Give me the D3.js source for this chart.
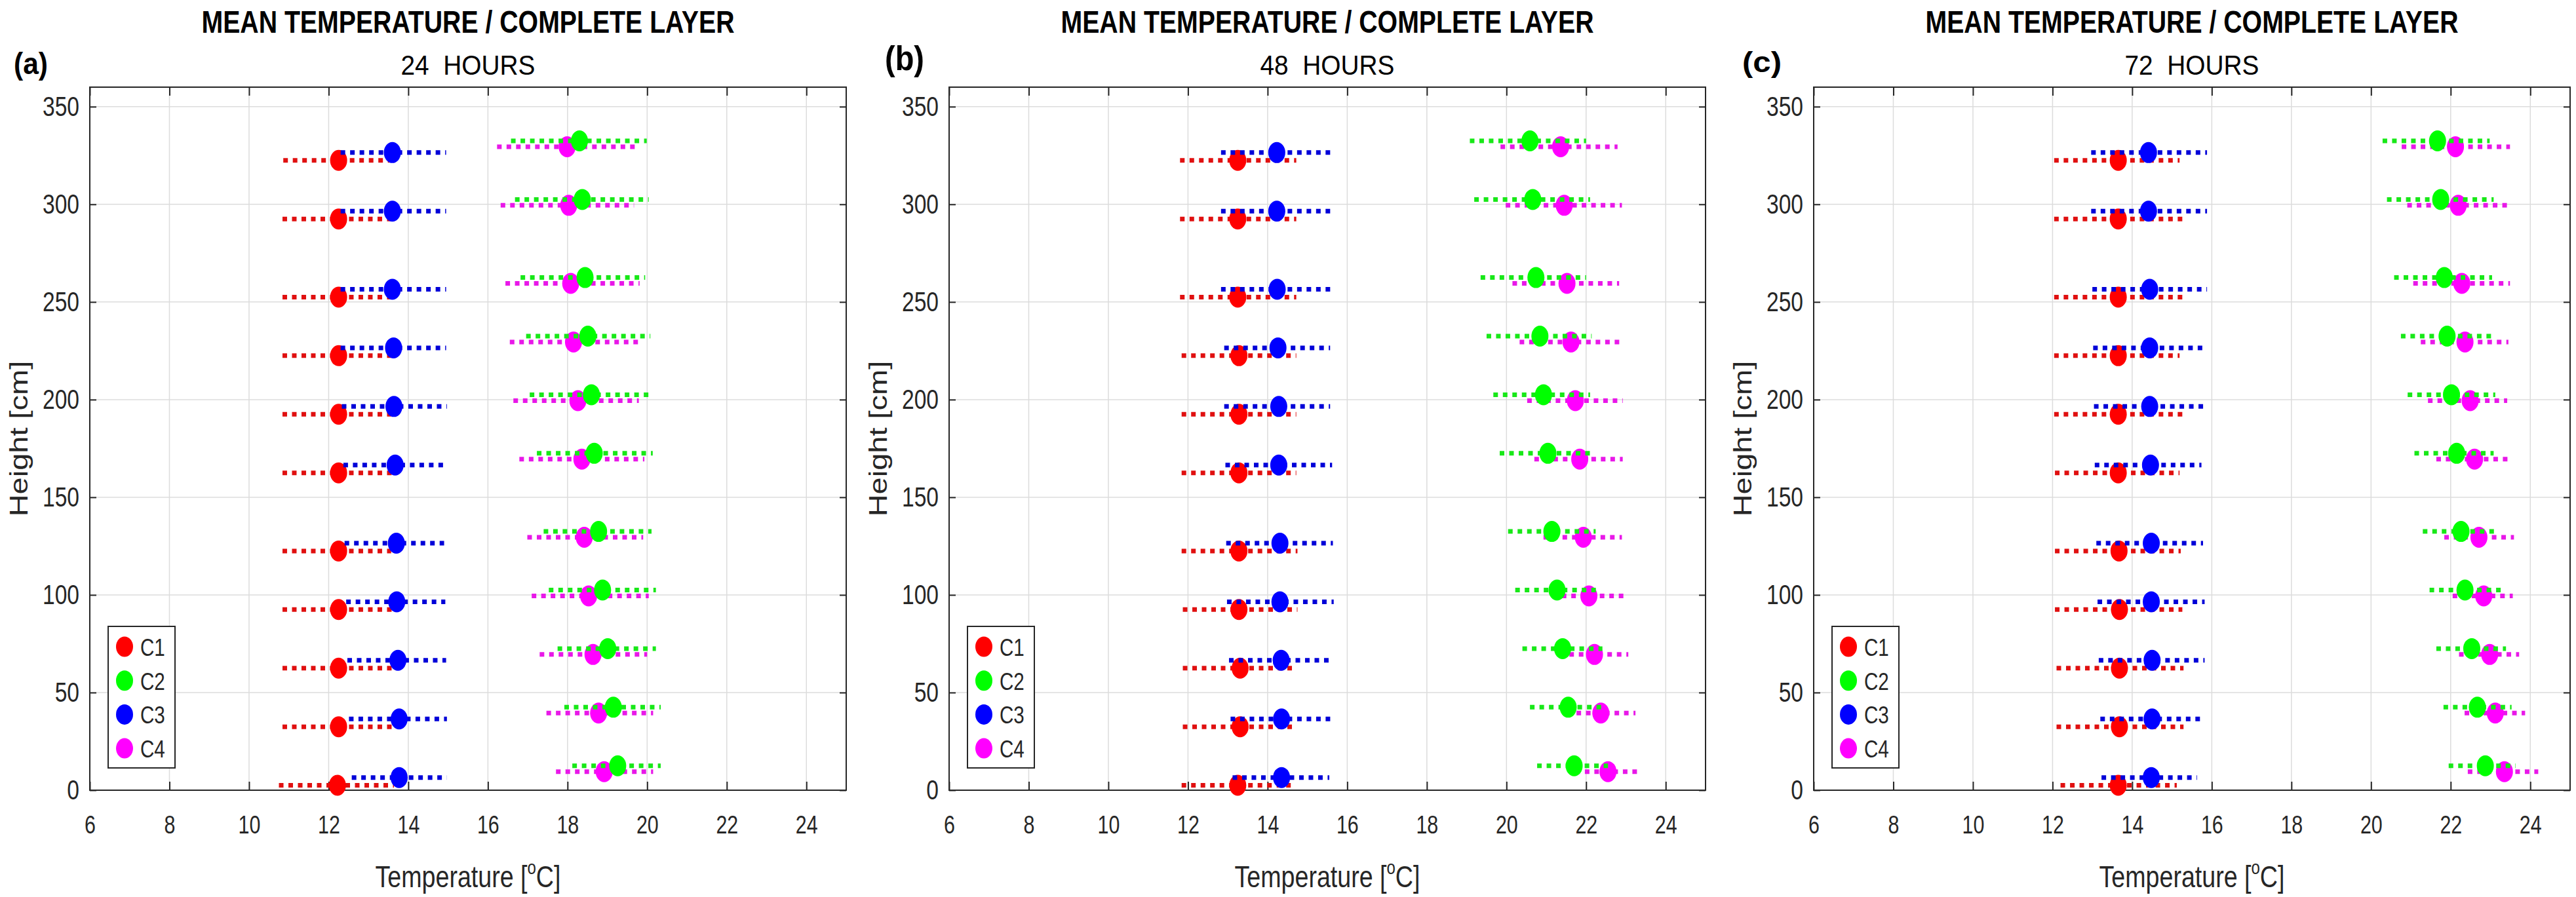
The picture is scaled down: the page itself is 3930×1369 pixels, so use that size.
<!DOCTYPE html>
<html>
<head>
<meta charset="utf-8">
<script src="https://cdn.jsdelivr.net/npm/d3@7"></script>
<style>
  body { margin: 0; background: #fff; }
  text { font-family: "Liberation Sans", Arial, Helvetica, sans-serif; fill: #262626; }
</style>
</head>
<body>
<div id="vis"></div>
<script>
// data
const categories = ['C1', 'C2', 'C3', 'C4'];
const panelLabels = ['(a)', '(b)', '(c)'];
const hourLabels = ['24  HOURS', '48  HOURS', '72  HOURS'];
const xTicks = [6, 8, 10, 12, 14, 16, 18, 20, 22, 24];
const yTicks = [0, 50, 100, 150, 200, 250, 300, 350];

// sensor heights [cm], bottom to top
const heightC1 = [2.5, 32.5, 62.5, 92.5, 122.5, 162.5, 192.5, 222.5, 252.5, 292.5, 322.5];
const heightC2 = [12.5, 42.5, 72.5, 102.5, 132.5, 172.5, 202.5, 232.5, 262.5, 302.5, 332.5];
const heightC3 = [6.5, 36.5, 66.5, 96.5, 126.5, 166.5, 196.5, 226.5, 256.5, 296.5, 326.5];
const heightC4 = [9.5, 39.5, 69.5, 99.5, 129.5, 169.5, 199.5, 229.5, 259.5, 299.5, 329.5];

// 24 hours: mean / min / max per column C1..C4
const mean24 = [
    [12.22, 12.25, 12.25, 12.25, 12.25, 12.25, 12.25, 12.25, 12.25, 12.25, 12.25],
    [19.26, 19.15, 19.01, 18.88, 18.78, 18.67, 18.60, 18.51, 18.44, 18.37, 18.30],
    [13.77, 13.77, 13.74, 13.71, 13.70, 13.67, 13.64, 13.63, 13.60, 13.60, 13.60],
    [18.92, 18.78, 18.64, 18.53, 18.42, 18.36, 18.26, 18.15, 18.08, 18.03, 17.99]
];
const low24 = [
    [10.75, 10.84, 10.84, 10.84, 10.84, 10.84, 10.84, 10.84, 10.84, 10.84, 10.86],
    [18.12, 17.92, 17.75, 17.53, 17.40, 17.23, 17.05, 16.96, 16.82, 16.68, 16.58],
    [12.58, 12.51, 12.47, 12.44, 12.40, 12.37, 12.33, 12.30, 12.30, 12.30, 12.30],
    [17.71, 17.47, 17.30, 17.10, 16.99, 16.79, 16.64, 16.55, 16.44, 16.32, 16.23]
];
const high24 = [
    [13.64, 13.71, 13.60, 13.71, 13.57, 13.60, 13.57, 13.57, 13.57, 13.60, 13.53],
    [20.34, 20.34, 20.22, 20.22, 20.11, 20.14, 20.14, 20.08, 19.95, 20.04, 19.99],
    [14.97, 14.97, 14.95, 14.93, 14.90, 14.97, 14.97, 14.95, 14.95, 14.95, 14.95],
    [20.15, 20.15, 20.00, 20.04, 19.90, 19.93, 19.79, 19.81, 19.81, 19.67, 19.73]
];

// 48 hours
const mean48 = [
    [13.25, 13.31, 13.31, 13.28, 13.28, 13.28, 13.28, 13.28, 13.25, 13.25, 13.25],
    [21.70, 21.55, 21.41, 21.27, 21.14, 21.04, 20.93, 20.84, 20.74, 20.66, 20.59],
    [14.35, 14.35, 14.34, 14.31, 14.31, 14.28, 14.28, 14.26, 14.24, 14.23, 14.23],
    [22.55, 22.37, 22.21, 22.07, 21.93, 21.84, 21.73, 21.62, 21.52, 21.45, 21.36]
];
const low48 = [
    [11.84, 11.87, 11.87, 11.87, 11.84, 11.84, 11.84, 11.84, 11.80, 11.80, 11.80],
    [20.77, 20.59, 20.40, 20.22, 20.04, 19.83, 19.67, 19.50, 19.35, 19.19, 19.08],
    [13.12, 13.07, 13.03, 12.98, 12.96, 12.94, 12.91, 12.91, 12.83, 12.83, 12.83],
    [21.73, 21.52, 21.34, 21.15, 20.93, 20.70, 20.52, 20.33, 20.15, 19.98, 19.85]
];
const high48 = [
    [14.65, 14.72, 14.72, 14.75, 14.75, 14.72, 14.72, 14.72, 14.72, 14.72, 14.72],
    [22.55, 22.41, 22.41, 22.28, 22.24, 22.21, 22.10, 22.14, 22.00, 22.10, 22.00],
    [15.55, 15.62, 15.62, 15.66, 15.64, 15.62, 15.57, 15.57, 15.66, 15.66, 15.66],
    [23.38, 23.24, 23.06, 23.06, 22.90, 22.92, 22.92, 22.92, 22.83, 22.90, 22.79]
];

// 72 hours
const mean72 = [
    [13.65, 13.68, 13.68, 13.68, 13.67, 13.65, 13.65, 13.65, 13.65, 13.65, 13.65],
    [22.87, 22.67, 22.53, 22.36, 22.26, 22.15, 22.02, 21.91, 21.84, 21.75, 21.67],
    [14.48, 14.50, 14.50, 14.48, 14.48, 14.46, 14.44, 14.44, 14.44, 14.41, 14.41],
    [23.35, 23.12, 22.98, 22.83, 22.71, 22.60, 22.49, 22.36, 22.28, 22.19, 22.12]
];
const low72 = [
    [12.20, 12.10, 12.10, 12.06, 12.06, 12.06, 12.04, 12.04, 12.04, 12.04, 12.04],
    [21.95, 21.82, 21.64, 21.47, 21.30, 21.09, 20.92, 20.75, 20.58, 20.40, 20.29],
    [13.23, 13.20, 13.16, 13.13, 13.10, 13.06, 13.04, 13.02, 13.00, 12.97, 12.97],
    [22.43, 22.35, 22.21, 22.05, 21.84, 21.64, 21.43, 21.25, 21.06, 20.91, 20.77]
];
const high72 = [
    [15.12, 15.29, 15.29, 15.26, 15.22, 15.19, 15.30, 15.19, 15.30, 15.30, 15.19],
    [23.63, 23.53, 23.39, 23.29, 23.17, 23.08, 23.12, 23.08, 23.04, 23.08, 22.98],
    [15.63, 15.82, 15.82, 15.82, 15.78, 15.74, 15.85, 15.85, 15.88, 15.88, 15.88],
    [24.20, 23.87, 23.72, 23.56, 23.59, 23.53, 23.42, 23.45, 23.49, 23.49, 23.49]
];

const heights = [heightC1, heightC2, heightC3, heightC4];
const panels = [
    { mean: mean24, low: low24, high: high24 },
    { mean: mean48, low: low48, high: high48 },
    { mean: mean72, low: low72, high: high72 }
];

// styles
const markerColors = ['#ff0000', '#00ff00', '#0000ff', '#ff00ff'];
const lineColors = ['#e01010', '#18e818', '#0000d8', '#e818e8'];
const drawOrder = [0, 2, 3, 1];
const ink = '#262626';

// layout
const panelLeft = [137, 1448, 2767];
const plotTop = 133;
const plotW = 1154;
const plotH = 1073;
// panel letter placement (they differ a bit in the original)
const letterX = [21, 1350, 2658];
const letterY = [113, 107, 110];
const letterSize = [46, 51, 45];
const letterW = [52, 60, 60];

const svg = d3.select('#vis')
    .append('svg')
    .attr('width', 3930)
    .attr('height', 1369);

panels.forEach((p, i) => {
    const left = panelLeft[i];
    const cx = left + plotW / 2;

    const xScale = d3.scaleLinear().domain([6, 25]).range([0, plotW]);
    const yScale = d3.scaleLinear().domain([0, 360]).range([plotH, 0]);

    // titles
    svg.append('text')
        .attr('x', cx).attr('y', 50)
        .attr('text-anchor', 'middle')
        .attr('font-size', 49).attr('font-weight', 'bold')
        .attr('textLength', 813).attr('lengthAdjust', 'spacingAndGlyphs')
        .style('fill', '#000')
        .text('MEAN TEMPERATURE / COMPLETE LAYER');

    svg.append('text')
        .attr('x', cx).attr('y', 114)
        .attr('text-anchor', 'middle')
        .attr('font-size', 43)
        .attr('textLength', 205).attr('lengthAdjust', 'spacingAndGlyphs')
        .style('white-space', 'pre')
        .style('fill', '#000')
        .text(hourLabels[i]);

    svg.append('text')
        .attr('x', letterX[i]).attr('y', letterY[i])
        .attr('font-size', letterSize[i]).attr('font-weight', 'bold')
        .attr('textLength', letterW[i]).attr('lengthAdjust', 'spacingAndGlyphs')
        .style('fill', '#000')
        .text(panelLabels[i]);

    const g = svg.append('g')
        .attr('transform', `translate(${left},${plotTop})`);

    // grid
    g.append('g').selectAll('line')
        .data(xTicks)
        .join('line')
        .attr('x1', d => xScale(d)).attr('x2', d => xScale(d))
        .attr('y1', 0).attr('y2', plotH)
        .attr('stroke', '#dcdcdc').attr('stroke-width', 1.5);

    g.append('g').selectAll('line')
        .data(yTicks)
        .join('line')
        .attr('x1', 0).attr('x2', plotW)
        .attr('y1', d => yScale(d)).attr('y2', d => yScale(d))
        .attr('stroke', '#dcdcdc').attr('stroke-width', 1.5);

    // axes (ticks pointing inward)
    const tidy = sel => {
        sel.select('.domain').remove();
        sel.selectAll('.tick line').attr('stroke', ink).attr('stroke-width', 2);
    };

    g.append('g')
        .call(d3.axisLeft(yScale).tickValues(yTicks).tickSize(-10).tickPadding(20))
        .call(tidy)
        .selectAll('text')
        .attr('font-size', 42)
        .attr('transform', 'scale(0.8,1)');

    g.append('g')
        .attr('transform', `translate(0,${plotH})`)
        .call(d3.axisBottom(xScale).tickValues(xTicks).tickSize(-13).tickPadding(39))
        .call(tidy)
        .selectAll('text')
        .attr('font-size', 38)
        .attr('transform', 'scale(0.8,1)');

    g.append('g')
        .call(d3.axisTop(xScale).tickValues(xTicks).tickSize(-13).tickFormat(''))
        .call(tidy);

    g.append('g')
        .attr('transform', `translate(${plotW},0)`)
        .call(d3.axisRight(yScale).tickValues(yTicks).tickSize(-10).tickFormat(''))
        .call(tidy);

    g.append('rect')
        .attr('width', plotW).attr('height', plotH)
        .attr('fill', 'none')
        .attr('stroke', ink).attr('stroke-width', 2);

    // dotted min-max lines and mean markers
    drawOrder.forEach(s => {
        const rows = heights[s].map((h, j) => ({
            h: h, m: p.mean[s][j], lo: p.low[s][j], hi: p.high[s][j]
        }));

        g.append('g').selectAll('line')
            .data(rows)
            .join('line')
            .attr('x1', d => xScale(d.lo)).attr('x2', d => xScale(d.hi))
            .attr('y1', d => yScale(d.h)).attr('y2', d => yScale(d.h))
            .attr('stroke', lineColors[s])
            .attr('stroke-width', 7)
            .attr('stroke-dasharray', '7 7.5');

        g.append('g').selectAll('ellipse')
            .data(rows)
            .join('ellipse')
            .attr('cx', d => xScale(d.m))
            .attr('cy', d => yScale(d.h))
            .attr('rx', 13).attr('ry', 16)
            .attr('fill', markerColors[s]);
    });

    // legend
    const lg = g.append('g').attr('transform', 'translate(28,823)');
    lg.append('rect')
        .attr('width', 102).attr('height', 216)
        .attr('fill', '#fff')
        .attr('stroke', ink).attr('stroke-width', 2);

    const items = lg.selectAll('.item')
        .data(categories)
        .join('g')
        .attr('class', 'item')
        .attr('transform', (d, k) => `translate(0,${31 + k * 51.7})`);

    items.append('ellipse')
        .attr('cx', 25).attr('cy', 0)
        .attr('rx', 13).attr('ry', 15.5)
        .attr('fill', (d, k) => markerColors[k]);

    items.append('text')
        .attr('transform', 'translate(49,14) scale(0.8,1)')
        .attr('font-size', 37)
        .text(d => d);

    // axis labels
    const xl = svg.append('text')
        .attr('transform', `translate(${cx},1354) scale(0.8,1)`)
        .attr('text-anchor', 'middle')
        .attr('font-size', 47);
    xl.append('tspan').text('Temperature [');
    xl.append('tspan').attr('font-size', 30).attr('dy', -20).text('o');
    xl.append('tspan').attr('dy', 20).text('C]');

    svg.append('text')
        .attr('transform', `translate(${left - 95},${plotTop + plotH / 2}) scale(0.82,1) rotate(-90)`)
        .attr('text-anchor', 'middle')
        .attr('font-size', 47)
        .text('Height [cm]');
});
</script>
</body>
</html>
